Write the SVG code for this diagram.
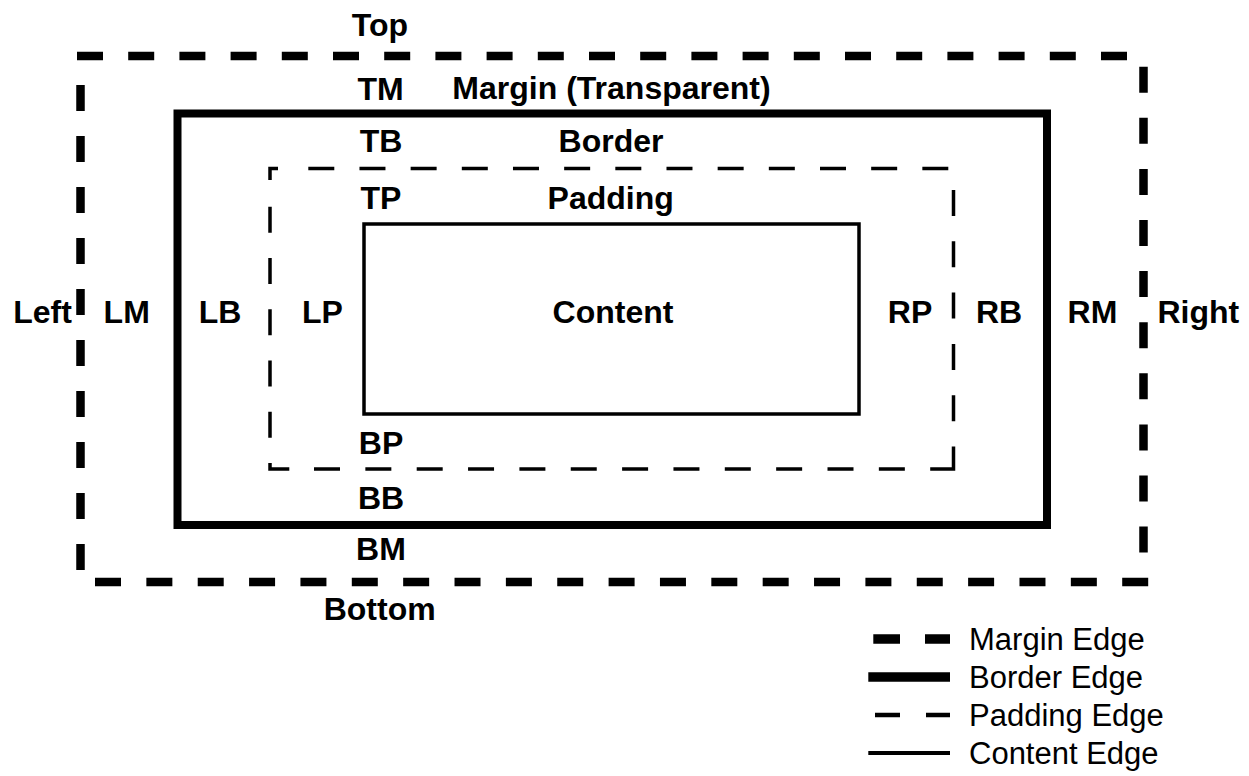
<svg xmlns="http://www.w3.org/2000/svg" width="1249" height="776" viewBox="0 0 1249 776">
<style>
.lbl{font-family:"Liberation Sans",Arial,sans-serif;font-weight:bold;font-size:32px;fill:#000;text-anchor:middle}
.leg{font-family:"Liberation Sans",Arial,sans-serif;font-size:31px;fill:#000}
.m{fill:none;stroke:#000;stroke-width:8.5;stroke-dasharray:26 25.2}
.b{fill:none;stroke:#000;stroke-width:8}
.p{fill:none;stroke:#000;stroke-width:3.5;stroke-dasharray:26 25.25}
.pc{fill:none;stroke:#000;stroke-width:3.5}
.c{fill:none;stroke:#000;stroke-width:3.5}
</style>
<rect width="1249" height="776" fill="#fff"/>
<g id="margin-edge">
<path class="m" d="M77,56 H1127"/>
<path class="m" d="M1143.5,66.7 V552.7" style="stroke-dasharray:26 25.1"/>
<path class="m" d="M80.5,85 V570" style="stroke-dasharray:26 25"/>
<path class="m" d="M95,582 H1148.3" style="stroke-dasharray:26 25.36"/>
</g>
<g id="border-edge">
<rect class="b" x="177.5" y="113.5" width="869.5" height="411.5"/>
</g>
<g id="padding-edge">
<path class="p" d="M308.3,168.5 H948.3" style="stroke-dasharray:26 25.17"/>
<path class="p" d="M270,206.7 V437.7"/>
<path class="p" d="M314,469 H905" style="stroke-dasharray:26 25.35"/>
<path class="p" d="M953.5,190 V421.2" style="stroke-dasharray:26 25.3"/>
<path class="pc" d="M278,168.5 H270 V180"/>
<path class="pc" d="M270,463 V469 H289.3"/>
<path class="pc" d="M930.2,469 H953.5 V446.5"/>
</g>
<g id="content-edge">
<rect class="c" x="364" y="224" width="495" height="190"/>
</g>
<g id="labels">
<text class="lbl" x="380" y="36">Top</text>
<text class="lbl" x="380.5" y="99.5">TM</text>
<text class="lbl" x="611.5" y="98.5">Margin (Transparent)</text>
<text class="lbl" x="381" y="151.5">TB</text>
<text class="lbl" x="611" y="151.5">Border</text>
<text class="lbl" x="381" y="209">TP</text>
<text class="lbl" x="610.7" y="208.5">Padding</text>
<text class="lbl" x="42.5" y="323">Left</text>
<text class="lbl" x="126.7" y="323">LM</text>
<text class="lbl" x="220" y="323">LB</text>
<text class="lbl" x="322.5" y="323">LP</text>
<text class="lbl" x="613" y="323">Content</text>
<text class="lbl" x="910" y="323">RP</text>
<text class="lbl" x="999" y="323">RB</text>
<text class="lbl" x="1092.5" y="323">RM</text>
<text class="lbl" x="1198.3" y="323">Right</text>
<text class="lbl" x="381" y="454.3">BP</text>
<text class="lbl" x="381" y="509.3">BB</text>
<text class="lbl" x="381" y="560">BM</text>
<text class="lbl" x="379.7" y="620">Bottom</text>
</g>
<g id="legend">
<path d="M873.3,639 H950" style="fill:none;stroke:#000;stroke-width:9.5;stroke-dasharray:26.7 25"/>
<path d="M868.3,677 H950" style="fill:none;stroke:#000;stroke-width:9.5"/>
<path d="M875,715 H950" style="fill:none;stroke:#000;stroke-width:4.5;stroke-dasharray:25 26"/>
<path d="M868.3,753 H950" style="fill:none;stroke:#000;stroke-width:4"/>
<text class="leg" x="969" y="650">Margin Edge</text>
<text class="leg" x="969" y="688">Border Edge</text>
<text class="leg" x="969" y="726">Padding Edge</text>
<text class="leg" x="969" y="764">Content Edge</text>
</g>
</svg>
